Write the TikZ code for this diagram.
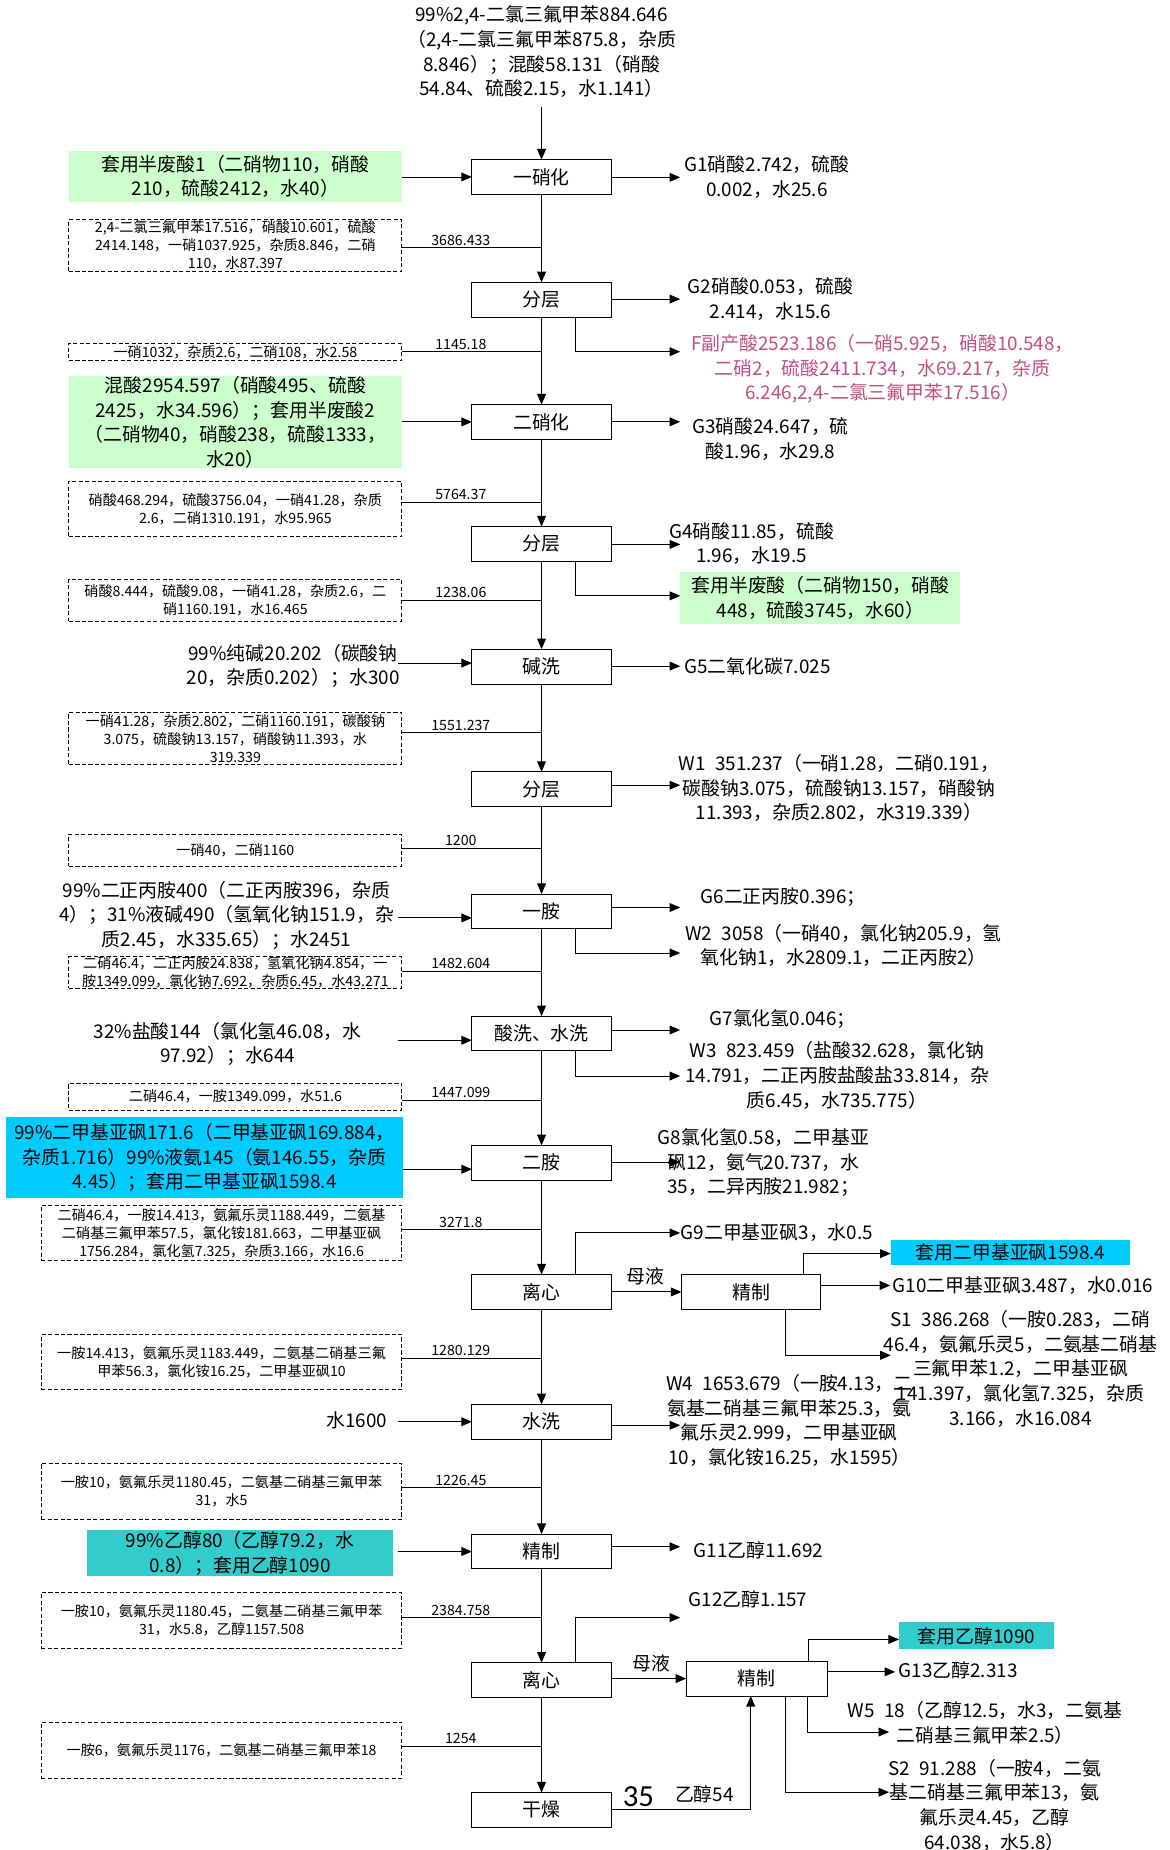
\documentclass[tikz,border=0pt]{standalone}
\usepackage{fontspec}
\setmainfont{Noto Sans CJK SC}
\newfontfamily\calfont{Carlito}
\usetikzlibrary{arrows.meta}
\definecolor{lgreen}{RGB}{204,255,204}
\definecolor{cyanb}{RGB}{0,204,255}
\definecolor{tealb}{RGB}{51,204,204}
\definecolor{pinkt}{RGB}{192,80,128}
\begin{document}
\begin{tikzpicture}[x=1pt,y=-1pt,
  every node/.style={inner sep=0pt,outer sep=0pt},
  big/.style={font=\fontsize{16}{20.9}\selectfont,align=center},
  sm/.style={font=\fontsize{12}{15.3}\selectfont,align=center},
  lab/.style={font=\fontsize{12}{14}\selectfont},
  proc/.style={big,draw,line width=0.8pt,minimum width=118pt,minimum height=29.5pt},
  dbox/.style={sm,draw,dash pattern=on 3.5pt off 2pt,line width=0.8pt},
  ln/.style={line width=0.8pt},
  arr/.style={line width=0.8pt,-{Triangle[length=9pt,width=7.5pt]}}]
\useasboundingbox (0,0) rectangle (991,1568);
\fill[white] (0,0) rectangle (991,1568);

% ---------- top input
\node[big] (top) at (459,44.1) {99\%2,4-二氯三氟甲苯884.646\\（2,4-二氯三氟甲苯875.8，杂质\\8.846）；混酸58.131（硝酸\\54.84、硫酸2.15，水1.141）};

% ---------- process column
\node[proc] (b1) at (459,150) {一硝化};
\node[proc] (b2) at (459,254) {分层};
\node[proc] (b3) at (459,357.6) {二硝化};
\node[proc] (b4) at (459,461) {分层};
\node[proc] (b5) at (459,565) {碱洗};
\node[proc] (b6) at (459,669) {分层};
\node[proc] (b7) at (459,772.5) {一胺};
\node[proc] (b8) at (459,876) {酸洗、水洗};
\node[proc] (b9) at (459,985.5) {二胺};
\node[proc] (b10) at (459,1095) {离心};
\node[proc] (b11) at (459,1205) {水洗};
\node[proc] (b12) at (459,1315) {精制};
\node[proc] (b13) at (459,1424) {离心};
\node[proc] (b14) at (459,1534) {干燥};
\node[proc] (r1) at (636.6,1095) {精制};
\node[proc,minimum width=119.5pt] (r2) at (641.3,1422.7) {精制};

\coordinate (t0) at (459,90.4);
\draw[arr] (t0) -- (b1.north);
\foreach \a/\b in {b1/b2,b2/b3,b3/b4,b4/b5,b5/b6,b6/b7,b7/b8,b8/b9,b9/b10,b10/b11,b11/b12,b12/b13,b13/b14}
  \draw[arr] (\a.south) -- (\b.north);

% ---------- left inputs
\node[big,fill=lgreen,minimum width=282.2pt,minimum height=43pt] (g1) at (199.5,149.5) {套用半废酸1（二硝物110，硝酸\\210，硫酸2412，水40）};
\draw[arr] (g1.east |- b1) -- (b1.west);

\node[big,fill=lgreen,minimum width=282.2pt,minimum height=78pt] (g2) at (199.5,358) {混酸2954.597（硝酸495、硫酸\\2425，水34.596）；套用半废酸2\\（二硝物40，硝酸238，硫酸1333，\\水20）};
\draw[arr] (g2.east |- b3) -- (b3.west);

\node[big] (i5) at (248.4,564.3) {99\%纯碱20.202（碳酸钠\\20，杂质0.202）；水300};
\coordinate (s5) at (337,562);
\draw[arr] (s5) -- (s5 -| b5.west);

\node[big] (i7) at (192,775.8) {99\%二正丙胺400（二正丙胺396，杂质\\4）；31\%液碱490（氢氧化钠151.9，杂\\质2.45，水335.65）；水2451};
\coordinate (s7) at (337,778);
\draw[arr] (s7) -- (s7 -| b7.west);

\node[big] (i8) at (193,884.8) {32\%盐酸144（氯化氢46.08，水\\97.92）；水644};
\coordinate (s8) at (337,881.7);
\draw[arr] (s8) -- (s8 -| b8.west);

\node[big,fill=cyanb,minimum width=336.1pt,minimum height=68pt] (c9) at (173.3,981) {99\%二甲基亚砜171.6（二甲基亚砜169.884，\\杂质1.716）99\%液氨145（氨146.55，杂质\\4.45）；套用二甲基亚砜1598.4};
\coordinate (s9) at (341.3,991);
\draw[arr] (c9.east |- s9) -- (s9 -| b9.west);

\node[big,anchor=east] (i11) at (328,1204) {水1600};
\coordinate (s11) at (337.5,1205);
\draw[arr] (s11) -- (s11 -| b11.west);

\node[big,fill=tealb,minimum width=259.3pt,minimum height=38.8pt] (t12) at (203.4,1316.4) {99\%乙醇80（乙醇79.2，水\\0.8）；套用乙醇1090};
\coordinate (s12) at (337.5,1315);
\draw[arr] (s12) -- (s12 -| b12.west);

% ---------- dashed intermediate boxes
\node[dbox,minimum width=282.2pt,minimum height=44.3pt] (d1) at (199.5,208.2) {2,4-二氯三氟甲苯17.516，硝酸10.601，硫酸\\2414.148，一硝1037.925，杂质8.846，二硝\\110，水87.397};
\node[dbox,minimum width=282.2pt,minimum height=14.8pt] (d2) at (199.5,298.4) {一硝1032，杂质2.6，二硝108，水2.58};
\node[dbox,minimum width=282.2pt,minimum height=47pt] (d3) at (199.5,431.5) {硝酸468.294，硫酸3756.04，一硝41.28，杂质\\2.6，二硝1310.191，水95.965};
\node[dbox,minimum width=282.2pt,minimum height=35.6pt] (d4) at (199.5,508.8) {硝酸8.444，硫酸9.08，一硝41.28，杂质2.6，二\\硝1160.191，水16.465};
\node[dbox,minimum width=282.2pt,minimum height=44.2pt] (d5) at (199.5,625.7) {一硝41.28，杂质2.802，二硝1160.191，碳酸钠\\3.075，硫酸钠13.157，硝酸钠11.393，水\\319.339};
\node[dbox,minimum width=282.2pt,minimum height=27pt] (d6) at (199.5,720.5) {一硝40，二硝1160};
\node[dbox,minimum width=282.2pt,minimum height=26.6pt] (d7) at (199.5,824.3) {二硝46.4，二正丙胺24.838，氢氧化钠4.854，一\\胺1349.099，氯化钠7.692，杂质6.45，水43.271};
\node[dbox,minimum width=282.2pt,minimum height=23pt] (d8) at (199.5,929.5) {二硝46.4，一胺1349.099，水51.6};
\node[dbox,minimum width=305.6pt,minimum height=47.2pt] (d9) at (187.8,1045.1) {二硝46.4，一胺14.413，氨氟乐灵1188.449，二氨基\\二硝基三氟甲苯57.5，氯化铵181.663，二甲基亚砜\\1756.284，氯化氢7.325，杂质3.166，水16.6};
\node[dbox,minimum width=305.6pt,minimum height=47pt] (d10) at (187.8,1154.5) {一胺14.413，氨氟乐灵1183.449，二氨基二硝基三氟\\甲苯56.3，氯化铵16.25，二甲基亚砜10};
\node[dbox,minimum width=305.6pt,minimum height=47.7pt] (d11) at (187.8,1263.9) {一胺10，氨氟乐灵1180.45，二氨基二硝基三氟甲苯\\31，水5};
\node[dbox,minimum width=305.6pt,minimum height=47.3pt] (d12) at (187.8,1373.4) {一胺10，氨氟乐灵1180.45，二氨基二硝基三氟甲苯\\31，水5.8，乙醇1157.508};
\node[dbox,minimum width=305.6pt,minimum height=47.5pt] (d13) at (187.8,1483.3) {一胺6，氨氟乐灵1176，二氨基二硝基三氟甲苯18};

\foreach \i/\y/\t in {1/209.7/3686.433,2/298/1145.18,3/425.6/5764.37,4/508.6/1238.06,5/621/1551.237,6/719/1200,7/823/1482.604,8/932.5/1447.099,9/1042/3271.8,10/1151/1280.129,11/1261/1226.45,12/1371/2384.758,13/1480/1254}{
  \coordinate (j\i) at (459,\y);
  \draw[ln] (d\i.east |- j\i) -- (j\i);
  \node[lab] (l\i) at (390.6,\y-6.3) {\t};
}

% ---------- right outputs
\coordinate (e1) at (576.5,150.3);
\draw[arr] (b1.east |- e1) -- (e1);
\node[big] (o1) at (650,150) {G1硝酸2.742，硫酸\\0.002，水25.6};

\coordinate (e2) at (576.5,253.5);
\draw[arr] (b2.east |- e2) -- (e2);
\node[big] (o2) at (653,253.5) {G2硝酸0.053，硫酸\\2.414，水15.6};

\coordinate (f2) at (488,298.1);
\coordinate (eF) at (576.5,298.1);
\draw[arr] (b2.south -| f2) -- (f2) -- (eF);
\node[big,text=pinkt] (oF) at (748,312.7) {F副产酸2523.186（一硝5.925，硝酸10.548，\\二硝2，硫酸2411.734，水69.217，杂质\\6.246,2,4-二氯三氟甲苯17.516）};

\coordinate (e3) at (576.5,357.5);
\draw[arr] (b3.east |- e3) -- (e3);
\node[big] (o3) at (653,372) {G3硝酸24.647，硫\\酸1.96，水29.8};

\coordinate (e4) at (576.5,461.4);
\draw[arr] (b4.east |- e4) -- (e4);
\node[big] (o4) at (637,460.7) {G4硝酸11.85，硫酸\\1.96，水19.5};

\node[big,fill=lgreen,minimum width=237.5pt,minimum height=44pt] (g4) at (695.3,507) {套用半废酸（二硝物150，硝酸\\448，硫酸3745，水60）};
\coordinate (f4) at (488,505);
\draw[arr] (b4.south -| f4) -- (f4) -- (f4 -| g4.west);

\coordinate (e5) at (576.5,564.6);
\draw[arr] (b5.east |- e5) -- (e5);
\node[big] (o5) at (642,564.5) {G5二氧化碳7.025};

\coordinate (e6) at (576.5,665.5);
\draw[arr] (b6.east |- e6) -- (e6);
\node[big] (o6) at (711,668) {W1\enspace 351.237（一硝1.28，二硝0.191，\\碳酸钠3.075，硫酸钠13.157，硝酸钠\\11.393，杂质2.802，水319.339）};

\coordinate (e7) at (576.5,769.2);
\draw[arr] (b7.east |- e7) -- (e7);
\node[big] (o7) at (663.7,760) {G6二正丙胺0.396；};
\coordinate (f7) at (488,807.7);
\coordinate (e7b) at (576.5,807.7);
\draw[arr] (b7.south -| f7) -- (f7) -- (e7b);
\node[big] (o7b) at (715,801.3) {W2\enspace 3058（一硝40，氯化钠205.9，氢\\氧化钠1，水2809.1，二正丙胺2）};

\coordinate (e8) at (576.5,873);
\draw[arr] (b8.east |- e8) -- (e8);
\node[big] (o8) at (663.3,864) {G7氯化氢0.046；};
\coordinate (f8) at (488,912);
\coordinate (e8b) at (576.5,912);
\draw[arr] (b8.south -| f8) -- (f8) -- (e8b);
\node[big] (o8b) at (709.5,911.5) {W3\enspace 823.459（盐酸32.628，氯化钠\\14.791，二正丙胺盐酸盐33.814，杂\\质6.45，水735.775）};

\coordinate (e9) at (576.5,985);
\draw[arr] (b9.east |- e9) -- (e9);
\node[big] (o9) at (647,985.5) {G8氯化氢0.58，二甲基亚\\砜12，氨气20.737，水\\35，二异丙胺21.982；};

\coordinate (f10) at (488,1045);
\coordinate (e10) at (576.5,1045);
\draw[arr] (b10.north -| f10) -- (f10) -- (e10);
\node[big] (o10) at (658.4,1045) {G9二甲基亚砜3，水0.5};

\draw[arr] (b10.east) -- (r1.west);
\node[big] (m1) at (547,1082) {母液};

\node[big,fill=cyanb,minimum width=203pt,minimum height=21pt] (c10) at (856.5,1061.5) {套用二甲基亚砜1598.4};
\coordinate (u1) at (681,1062.5);
\draw[arr] (r1.north -| u1) -- (u1) -- (u1 -| c10.west);

\coordinate (e10b) at (754.6,1089.5);
\draw[arr] (r1.east |- e10b) -- (e10b);
\node[big] (o10b) at (867,1089.4) {G10二甲基亚砜3.487，水0.016};

\coordinate (v1) at (666,1148.7);
\coordinate (e10c) at (755,1148.7);
\draw[arr] (r1.south -| v1) -- (v1) -- (e10c);
\node[big] (o10c) at (865,1160) {S1\enspace 386.268（一胺0.283，二硝\\46.4，氨氟乐灵5，二氨基二硝基\\三氟甲苯1.2，二甲基亚砜\\141.397，氯化氢7.325，杂质\\3.166，水16.084};

\coordinate (e11) at (576.5,1208);
\draw[arr] (b11.east |- e11) -- (e11);
\node[big] (o11) at (669,1204) {W4\enspace 1653.679（一胺4.13，二\\氨基二硝基三氟甲苯25.3，氨\\氟乐灵2.999，二甲基亚砜\\10，氯化铵16.25，水1595）};

\coordinate (e12) at (576.5,1311);
\draw[arr] (b12.east |- e12) -- (e12);
\node[big] (o12) at (643,1314) {G11乙醇11.692};

\coordinate (f13) at (488,1371);
\coordinate (e13) at (576.5,1371);
\draw[arr] (b13.north -| f13) -- (f13) -- (e13);
\node[big] (o13) at (634,1355.6) {G12乙醇1.157};

\draw[arr] (b13.east |- r2) -- (r2.west);
\node[big] (m2) at (552,1410) {母液};

\node[big,fill=tealb,minimum width=131pt,minimum height=23pt] (t13) at (827.5,1386.5) {套用乙醇1090};
\coordinate (u2) at (685.5,1389.5);
\draw[arr] (r2.north -| u2) -- (u2) -- (u2 -| t13.west);

\coordinate (e13b) at (758.7,1417);
\draw[arr] (r2.east |- e13b) -- (e13b);
\node[big] (o13b) at (812,1415.7) {G13乙醇2.313};

\coordinate (v2) at (684.5,1468);
\coordinate (e13c) at (753.6,1468);
\draw[arr] (r2.south -| v2) -- (v2) -- (e13c);
\node[big] (o13c) at (835,1460) {W5\enspace 18（乙醇12.5，水3，二氨基\\二硝基三氟甲苯2.5）};

\coordinate (v3) at (666,1519);
\coordinate (e13d) at (753.6,1519);
\draw[arr] (r2.south -| v3) -- (v3) -- (e13d);
\node[big] (o13d) at (843,1530) {S2\enspace 91.288（一胺4，二氨\\基二硝基三氟甲苯13，氨\\氟乐灵4.45，乙醇\\64.038，水5.8）};

\coordinate (k) at (636.3,1533.5);
\draw[arr] (b14.east |- k) -- (k) -- (k |- r2.south);
\node[font=\calfont\fontsize{26}{26}\selectfont] (n35) at (541,1523) {35};
\node[big] (n54) at (597,1521) {乙醇54};
\end{tikzpicture}
\end{document}
